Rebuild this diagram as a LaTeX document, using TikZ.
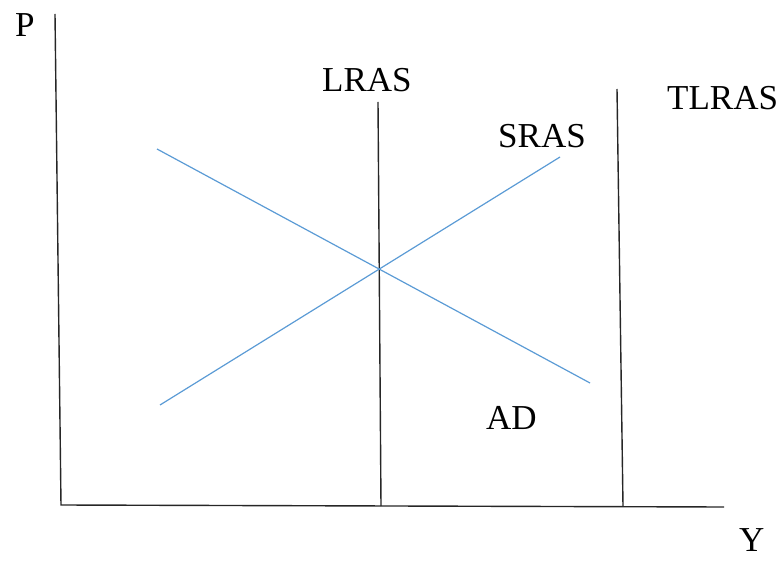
\documentclass[tikz,border=0pt]{standalone}
\usepackage{fontspec}
\setmainfont{Liberation Serif}
\begin{document}
\begin{tikzpicture}[x=1pt,y=-1pt,
  axisline/.style={line width=1.4pt,black!85},
  curve/.style={line width=1.2pt,color={rgb,255:red,91;green,155;blue,213}},
  lbl/.style={inner sep=0pt,anchor=base west,font=\fontsize{35}{40}\selectfont}]
\useasboundingbox (0,0) rectangle (784,561);
% axes
\coordinate (ptop) at (55,14);
\coordinate (origin) at (61,505);
\coordinate (yend) at (724,507);
\draw[axisline] (ptop) -- (origin) -- (yend);
% LRAS and TLRAS
\coordinate (lrastop) at (378,102);
\coordinate (lrasbot) at (381,506);
\coordinate (tlrastop) at (617,89);
\coordinate (tlrasbot) at (623,506);
\draw[axisline] (lrastop) -- (lrasbot);
\draw[axisline] (tlrastop) -- (tlrasbot);
% AD and SRAS
\coordinate (adtop) at (157,149);
\coordinate (adbot) at (590,383);
\coordinate (srasbot) at (160,405);
\coordinate (srastop) at (560,157);
\draw[curve] (adtop) -- (adbot);
\draw[curve] (srasbot) -- (srastop);
% labels
\node[lbl] (pl) at (15,37) {P};
\node[lbl] (yl) at (739,551) {Y};
\node[lbl] (lrasl) at (322,92) {LRAS};
\node[lbl] (tlrasl) at (667,110) {TLRAS};
\node[lbl] (srasl) at (498,148) {SRAS};
\node[lbl] (adl) at (486,429) {AD};
\end{tikzpicture}
\end{document}
